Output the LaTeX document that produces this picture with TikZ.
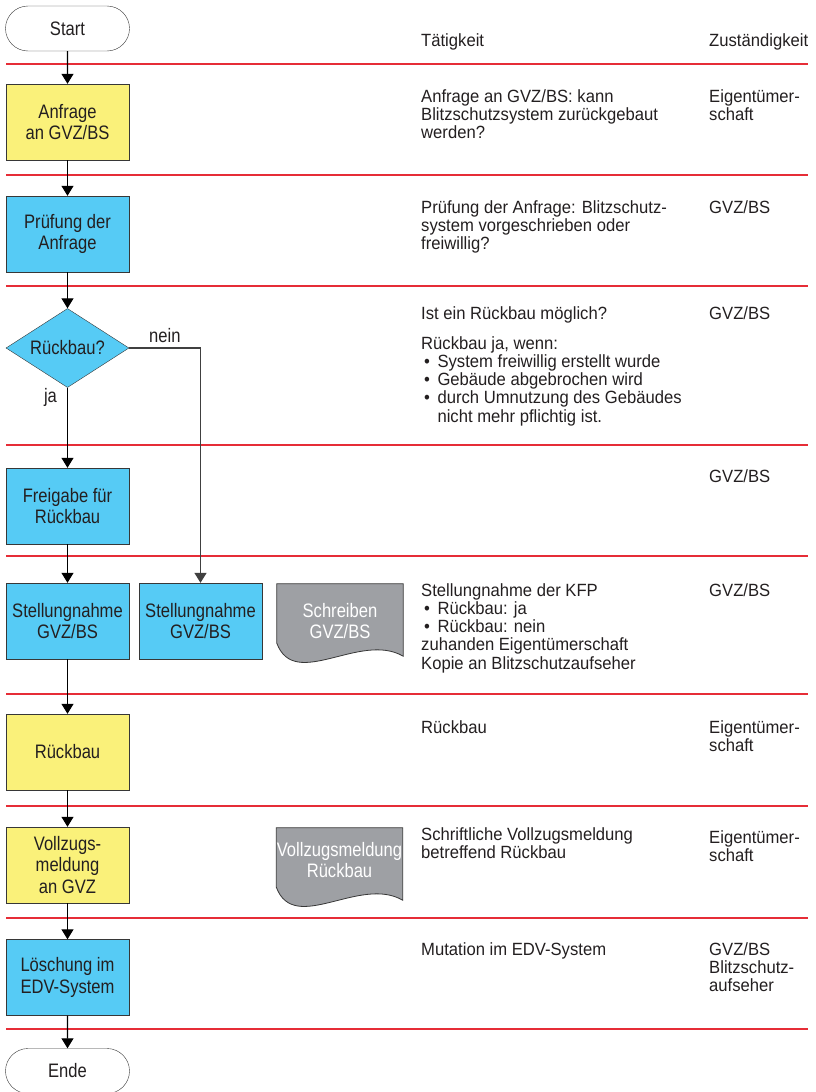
\documentclass[tikz,border=0pt]{standalone}
\usepackage{fontspec}
\setmainfont{Liberation Sans}[FakeStretch=0.94]
\newfontfamily\boxfont{Liberation Sans}[FakeStretch=0.85]
\usetikzlibrary{shapes,arrows.meta,calc,backgrounds}
\definecolor{boxyellow}{RGB}{250,241,122}
\definecolor{boxblue}{RGB}{86,203,245}
\definecolor{docgray}{RGB}{158,160,164}
\definecolor{rowred}{RGB}{230,45,55}
\definecolor{inkgray}{RGB}{55,55,55}
\definecolor{textink}{RGB}{35,31,32}
\tikzstyle{terminal} = [rounded rectangle, draw=inkgray, fill=white,
minimum width=124pt, minimum height=45pt, inner sep=0pt]
\tikzstyle{block} = [rectangle, draw=inkgray, align=center,
minimum width=123pt, minimum height=76pt, inner sep=0pt]
\tikzstyle{ownerblock} = [block, fill=boxyellow]
\tikzstyle{officeblock} = [block, fill=boxblue]
\tikzstyle{decision} = [diamond, draw=inkgray, fill=boxblue, aspect=1.56,
minimum width=123pt, minimum height=79pt, inner sep=0pt]
\tikzstyle{doc} = [rectangle, align=center, text=white,
minimum width=126pt, minimum height=74pt, inner sep=0pt]
\tikzstyle{docline} = [draw=inkgray, fill=docgray, line width=0.8pt]
\tikzstyle{line} = [draw, line width=1.2pt, -{Triangle[width=12pt,length=10pt]}]
\tikzstyle{sepline} = [draw=rowred, line width=1.2pt]
\tikzstyle{note} = [anchor=north west, inner sep=0pt, align=left,
font=\fontsize{17.7}{18.3}\selectfont, execute at begin node=\strut]

\begin{document}
\begin{tikzpicture}[x=1pt, y=1pt, node distance=112pt,
	font=\boxfont\fontsize{19.5}{21.5}\selectfont, every node/.style={text=textink}]
	\useasboundingbox (0,0) rectangle (815,-1092);
	
	% row separators
	\foreach \y in {64,175,286,445,556,694,806,918,1029}
		\draw [sepline] (6,-\y) -- (808,-\y);
	
	% Place nodes
	\node [terminal] (start) at (67.5,-28.5) {Start};
	\node [ownerblock, node distance=93.5pt, below of=start] (anfrage) {Anfrage\\an GVZ/BS};
	\node [officeblock, below of=anfrage] (pruefung) {Prüfung der\\Anfrage};
	\node [decision, node distance=114pt, below of=pruefung] (rueckbaufrage) {Rückbau?};
	\node [officeblock, node distance=158pt, below of=rueckbaufrage] (freigabe) {Freigabe für\\Rückbau};
	\node [officeblock, node distance=115pt, below of=freigabe] (stellungja) {Stellungnahme\\GVZ/BS};
	\node [officeblock, node distance=133pt, right of=stellungja] (stellungnein) {Stellungnahme\\GVZ/BS};
	\node [doc, node distance=139.5pt, right of=stellungnein] (schreiben) {Schreiben\\GVZ/BS};
	\node [ownerblock, node distance=131pt, below of=stellungja] (rueckbau) {Rückbau};
	\node [ownerblock, node distance=113pt, below of=rueckbau] (vollzug) {Vollzugs-\\meldung\\an GVZ};
	\node [doc, node distance=272pt, right of=vollzug] (meldung) {Vollzugsmeldung\\Rückbau\\[-11pt]};
	\node [officeblock, node distance=112.5pt, below of=vollzug] (loeschung) {Löschung im\\EDV-System};
	\node [terminal, node distance=93.5pt, below of=loeschung] (ende) {Ende};
	
	% documents
	\begin{pgfonlayer}{background}
		\foreach \d in {schreiben,meldung}
			\draw [docline] (\d.north west) -- (\d.north east) -- ($(\d.south east)+(0,2)$)
			.. controls ($(\d.south east)+(-43,27)$) and ($(\d.south west)+(18,-33)$)
			.. ($(\d.south west)+(0,15)$) -- cycle;
	\end{pgfonlayer}
	
	% Place connectors
	\path [line] (start) -- (anfrage);
	\path [line] (anfrage) -- (pruefung);
	\path [line] (pruefung) -- (rueckbaufrage);
	\path [line] (rueckbaufrage) -- node [pos=0.12, left, inner sep=10pt] {ja} (freigabe);
	\path [line, draw=black!75, line width=1.6pt] (rueckbaufrage.east) -| node [pos=0.25, above, inner sep=5pt] {nein} (stellungnein.north);
	\path [line] (freigabe) -- (stellungja);
	\path [line] (stellungja) -- (rueckbau);
	\path [line] (rueckbau) -- (vollzug);
	\path [line] (vollzug) -- (loeschung);
	\path [line] (loeschung) -- (ende);
	
	% Taetigkeit / Zustaendigkeit
	\node [note] (taetigkeit) at (421,-33) {Tätigkeit};
	\node [note] (zustaendigkeit) at (709,-33) {Zuständigkeit};
	\node [note] (t1) at (421,-89) {Anfrage an GVZ/BS: kann\\Blitzschutzsystem zurückgebaut\\werden?};
	\node [note] (z1) at (709,-89) {Eigentümer-\\schaft};
	\node [note] (t2) at (421,-200) {Prüfung der Anfrage: Blitzschutz-\\system vorgeschrieben oder\\freiwillig?};
	\node [note] (z2) at (709,-200) {GVZ/BS};
	\node [note] (t3) at (421,-306) {Ist ein Rückbau möglich?};
	\node [note] (t3b) at (421,-336) {Rückbau ja, wenn:\\\,•\, System freiwillig erstellt wurde\\\,•\, Gebäude abgebrochen wird\\\,•\, durch Umnutzung des Gebäudes\\\hphantom{\,•\, }nicht mehr pflichtig ist.};
	\node [note] (z3) at (709,-306) {GVZ/BS};
	\node [note] (z4) at (709,-469) {GVZ/BS};
	\node [note] (t5) at (421,-583) {Stellungnahme der KFP\\\,•\, Rückbau: ja\\\,•\, Rückbau: nein\\zuhanden Eigentümerschaft\\Kopie an Blitzschutzaufseher};
	\node [note] (z5) at (709,-583) {GVZ/BS};
	\node [note] (t6) at (421,-720) {Rückbau};
	\node [note] (z6) at (709,-720) {Eigentümer-\\schaft};
	\node [note] (t7) at (421,-827) {Schriftliche Vollzugsmeldung\\betreffend Rückbau};
	\node [note] (z7) at (709,-830) {Eigentümer-\\schaft};
	\node [note] (t8) at (421,-942) {Mutation im EDV-System};
	\node [note] (z8) at (709,-942) {GVZ/BS\\Blitzschutz-\\aufseher};
\end{tikzpicture}
\end{document}
